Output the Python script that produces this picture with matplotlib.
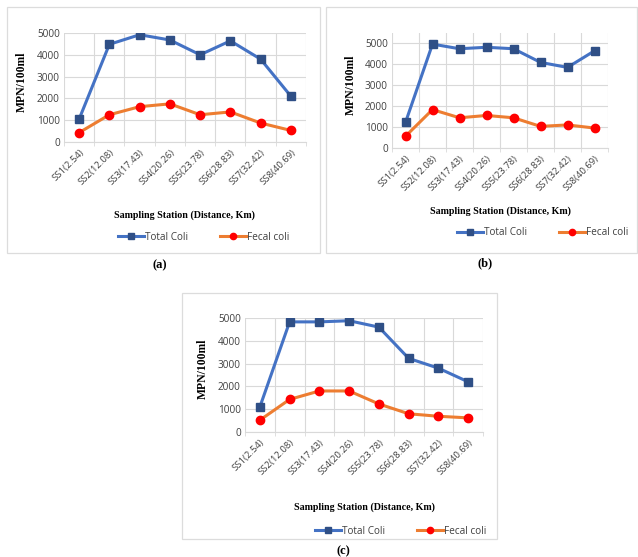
import matplotlib
matplotlib.use("Agg")
import matplotlib.pyplot as plt
from matplotlib.patches import Rectangle
import numpy as np

W, H = 638, 557

stations = ["SS1(2.54)", "SS2(12.08)", "SS3(17.43)", "SS4(20.26)",
            "SS5(23.78)", "SS6(28.83)", "SS7(32.42)", "SS8(40.69)"]

# (a)
total_a = [1050, 4480, 4920, 4680, 4000, 4640, 3800, 2100]
fecal_a = [430, 1250, 1620, 1750, 1250, 1380, 870, 530]
# (b)
total_b = [1220, 4950, 4730, 4800, 4730, 4080, 3840, 4630]
fecal_b = [560, 1830, 1440, 1550, 1440, 1030, 1100, 950]
# (c)
total_c = [1100, 4830, 4830, 4880, 4600, 3230, 2800, 2200]
fecal_c = [520, 1430, 1800, 1800, 1230, 800, 690, 620]

BLUE = "#4472C4"
BLUE_MK = "#2F4F86"
ORANGE = "#ED7D31"
RED = "#FF0000"
GRID = "#D9D9D9"

tick_font = "Open Sans"
serif_font = "Liberation Serif"

fig = plt.figure(figsize=(W / 100, H / 100), dpi=100)


def px_rect(l, t, r, b):
    return [l / W, 1 - b / H, (r - l) / W, (b - t) / H]


def panel(frame, plot, ymax, total, fecal, ylab_x, xlab_y, leg_c, tag_pos, tag):
    # light frame around each chart
    fl, ft, fr, fb = frame
    fig.patches.append(Rectangle((fl / W, 1 - fb / H), (fr - fl) / W, (fb - ft) / H,
                                 transform=fig.transFigure, fill=False,
                                 edgecolor="#DCDCDC", lw=0.9))
    ax = fig.add_axes(px_rect(*plot))
    x = np.arange(len(stations))
    ax.plot(x, total, color=BLUE, lw=2.2, marker="s", ms=5.2,
            mfc=BLUE_MK, mec=BLUE_MK, label="Total Coli", zorder=3)
    ax.plot(x, fecal, color=ORANGE, lw=2.2, marker="o", ms=6,
            mfc=RED, mec=RED, label="Fecal coli", zorder=3)
    ax.set_xlim(-0.5, len(stations) - 0.5)
    ax.set_ylim(0, ymax)
    ax.set_yticks(np.arange(0, 5001, 1000))
    ax.set_xticks(x)
    ax.set_xticks(np.arange(-0.5, len(stations), 1), minor=True)
    ax.set_xticklabels(stations, rotation=45, ha="right", rotation_mode="anchor",
                       fontsize=6.8, family=tick_font, color="#404040")
    for lab in ax.get_yticklabels():
        lab.set_fontsize(7.2)
        lab.set_family(tick_font)
        lab.set_color("#404040")
    ax.tick_params(axis="both", which="major", length=0, pad=3)
    ax.tick_params(axis="x", which="major", pad=4)
    ax.tick_params(axis="x", which="minor", length=3, color=GRID)
    ax.grid(axis="y", color=GRID, lw=0.8)
    ax.grid(axis="x", which="minor", color=GRID, lw=0.8)
    ax.set_axisbelow(True)
    for s in ["top", "right", "left"]:
        ax.spines[s].set_visible(False)
    ax.spines["bottom"].set_color(GRID)
    ax.spines["bottom"].set_linewidth(0.8)
    # axis titles
    pl, pt, pr, pb = plot
    fig.text(ylab_x / W, 1 - ((pt + pb) / 2 - 6) / H, "MPN/100ml", rotation=90,
             ha="center", va="center", fontsize=8.4, fontweight="bold", family=serif_font)
    fig.text((pl + pr) / 2 / W, 1 - xlab_y / H, "Sampling Station (Distance, Km)",
             ha="center", va="center", fontsize=7.2, fontweight="bold", family=serif_font)
    ax.legend(loc="center", bbox_to_anchor=(leg_c[0] / W, 1 - leg_c[1] / H),
              bbox_transform=fig.transFigure, ncol=2, frameon=False,
              prop={"family": tick_font, "size": 7.2}, handlelength=2.6,
              handletextpad=0.1, columnspacing=3.2, labelcolor="#404040",
              markerscale=0.75)
    fig.text(tag_pos[0] / W, 1 - tag_pos[1] / H, tag, ha="center", va="center",
             fontsize=9, fontweight="bold", family=serif_font)
    return ax


panel((7, 7, 320, 253), (64, 33, 306, 142), 5000, total_a, fecal_a,
      22, 215, (204, 237), (160, 265), "(a)")
panel((326, 7, 637, 253), (392, 33, 608, 148), 5480, total_b, fecal_b,
      351, 211, (543, 233), (485, 263), "(b)")
panel((182, 293, 497, 539), (245, 318, 483, 432), 5000, total_c, fecal_c,
      203, 507, (401, 531), (343, 551), "(c)")

fig.savefig("out.png", dpi=100, facecolor="white")
